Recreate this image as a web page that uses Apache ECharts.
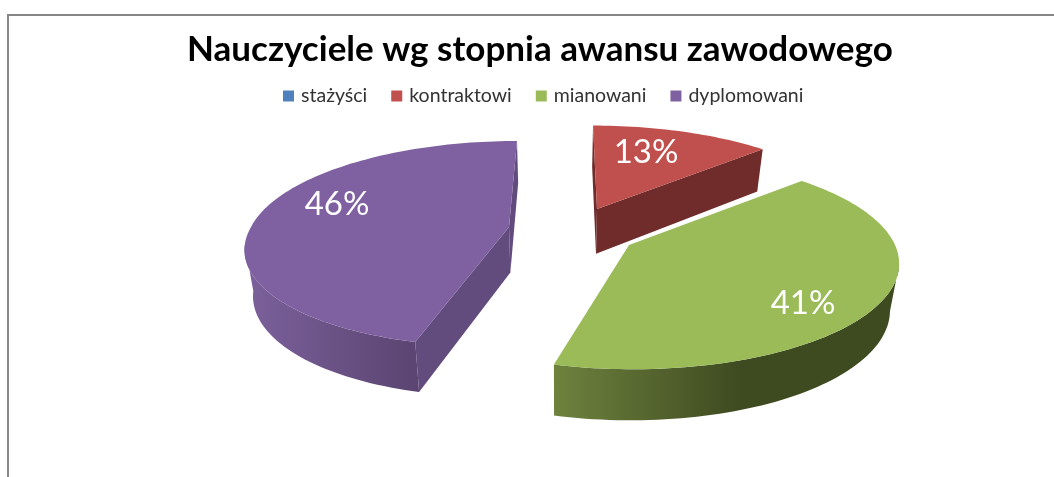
<!DOCTYPE html>
<html><head><meta charset="utf-8">
<style>html,body{margin:0;padding:0;background:#fff}#c{width:1054px;height:477px}</style>
<script src="https://cdn.jsdelivr.net/npm/echarts@6/dist/echarts.min.js"></script>
</head><body><div id="c"></div>
<script>
const titleText = 'Nauczyciele wg stopnia awansu zawodowego';
const categories = ['stażyści', 'kontraktowi', 'mianowani', 'dyplomowani'];
const values = [0, 13, 41, 46];

const colors = ['#4f81bd', '#c0504d', '#9bbb59', '#7f60a0'];
const PERSP = 0.163;
const looks = [
  {ax:0, ay:0, rx:265, ry:100, sh:0, shNear:0, lx:0, ly:0, cuts:[]},
  {ax:597, ay:209, rx:257, ry:97, sh:4.6, shNear:4.6, lx:49, ly:-57, cutFill:'#6f2c2b', cuts:['start','end'], rim:'#6f2c2b'},
  {ax:629, ay:245, rx:266, ry:104, sh:3, shNear:3, lx:174, ly:58, cutFill:'#3e4a20', cuts:[],
    rim:[[0,'#6e823e'],[0.54,'#3e4a20'],[1,'#3e4a20']]},
  {ax:509, ay:227, rx:258, ry:100, sh:-9.3, shNear:-15.3, lx:-172, ly:-23, cutFill:'#624c7e', cuts:['start','end'],
    rim:[[0,'#7c619c'],[1,'#5a4470']]}
];
const total = values.reduce((a, b) => a + b, 0);

function facing(deg) { return -Math.cos(deg * Math.PI / 180); }
function topPoint(look, deg) {
  const a = deg * Math.PI / 180, u = Math.sin(a), v = -Math.cos(a), w = 1 - PERSP * v;
  const sh = v > 0 ? look.shNear : look.sh;
  return [look.ax + (look.rx * u + sh * v) / w, look.ay + look.ry * v / w];
}
function lower(p) {
  return [p[0] + (560 - p[0]) * 0.027, p[1] + 41.5 + 0.04 * (p[1] - 130)];
}
function renderSlice(idx) {
  return function (params, api) {
    const val = api.value(0);
    if (!val) return {type: 'group', children: []};
    const look = looks[idx];
    const before = values.slice(0, idx).reduce((a, b) => a + b, 0);
    const a0 = before / total * 360, a1 = (before + val) / total * 360;
    const arc = [], near = [];
    const n = Math.ceil((a1 - a0) / 1.5);
    for (let i = 0; i <= n; i++) {
      const d = a0 + (a1 - a0) * i / n, p = topPoint(look, d);
      arc.push(p);
      if (facing(d) >= PERSP) near.push(p);
    }
    const apex = [look.ax, look.ay];
    const kids = [];
    if (near.length > 1) {
      const rimFill = new echarts.graphic.LinearGradient(0, 0, 1, 0, look.rim.map(s => ({offset: s[0], color: s[1]})));
      kids.push({type: 'polygon', shape: {points: near.concat(near.map(lower).reverse())},
        style: {fill: rimFill}, silent: true});
    }
    look.cuts.forEach(c => {
      const edge = c === 'start' ? arc[0] : arc[arc.length - 1];
      kids.push({type: 'polygon', shape: {points: [apex, edge, lower(edge), lower(apex)]},
        style: {fill: look.cutFill}, silent: true});
    });
    kids.push({type: 'polygon', shape: {points: [apex].concat(arc)},
      style: {fill: colors[idx]}, silent: true});
    kids.push({type: 'text', silent: true, style: {
      x: look.ax + look.lx, y: look.ay + look.ly,
      text: val + '%', fill: '#fff', align: 'center', verticalAlign: 'middle',
      font: '33px Lato'}});
    return {type: 'group', children: kids};
  };
}

const chart = echarts.init(document.getElementById('c'), null, {renderer: 'canvas'});
chart.setOption({
  animation: false,
  backgroundColor: '#fff',
  title: {text: titleText, left: 182, top: 27,
    textStyle: {fontFamily: 'Lato', fontWeight: 'bold', fontSize: 35, color: '#000'}},
  legend: {data: categories, left: 278, top: 81, icon: 'rect', itemWidth: 11, itemHeight: 11, itemGap: 24,
    selectedMode: false,
    textStyle: {fontFamily: 'Lato', fontSize: 19.5, color: '#333', padding: [0, 0, 0, 2]}},
  graphic: [
    {type: 'rect', shape: {x: 7, y: 14, width: 1047, height: 2}, style: {fill: '#868686'}},
    {type: 'rect', shape: {x: 7, y: 14, width: 2, height: 463}, style: {fill: '#868686'}}
  ],
  series: categories.map((name, i) => ({
    type: 'custom', name, coordinateSystem: 'none',
    itemStyle: {color: colors[i]},
    data: [[values[i]]],
    renderItem: renderSlice(i)
  }))
});
</script></body></html>
